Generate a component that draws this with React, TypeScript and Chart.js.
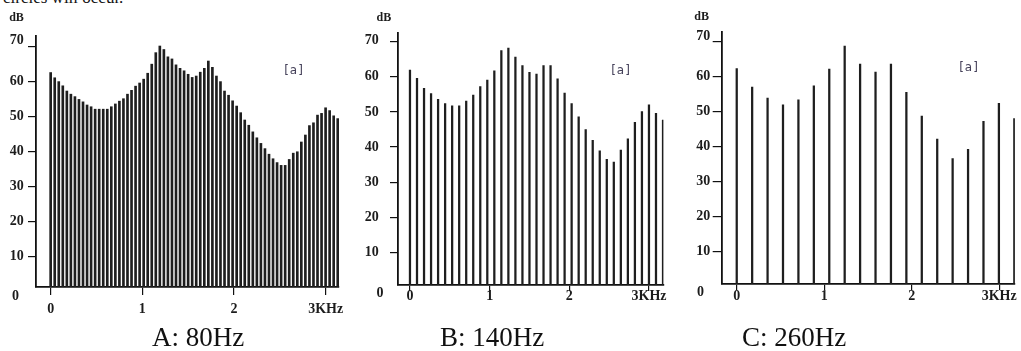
import React, { useEffect, useRef } from 'react';
import { Chart, registerables } from 'chart.js';

Chart.register(...registerables);

// ---------- data ----------
// Panel A: 80Hz source, harmonic amplitudes (dB)
const valuesA = [
  62.6, 61.1, 60, 58.8, 57.3, 56.4, 55.7, 54.9, 54.2, 53.3, 52.8, 52.1, 52.1, 52.1, 52.1, 52.8,
  53.6, 54.4, 55.1, 56.4, 57.5, 58.7, 59.6,
  60.7, 62.4, 65, 68.3, 70.2, 69.2, 67.1, 66.5, 64.8, 63.8, 63.1, 62.1, 61.2, 61.6, 62.7, 63.8,
  65.9, 64.1, 61.6, 60, 57.3, 56.1, 54.5, 53,
  51.1, 49, 47.5, 45.6, 43.9, 42.3, 40.8, 39.2, 37.9, 36.8, 36, 36, 37.7, 39.5, 39.9, 42.7,
  44.7, 47.4, 48.2, 50.4, 50.9, 52.5, 51.7, 50.2, 49.4,
];
// Panel B: 140Hz source
const valuesB = [
  61.9, 59.6, 56.7, 55.2, 53.6, 52.4, 51.7, 51.7, 53.1, 54.8, 57.2, 59.1, 61.7, 67.5, 68.2, 65.6,
  63.2, 61.3, 60.8, 63.2, 63.2, 59.4, 55.4, 52.4, 48.6, 45, 41.9, 38.9, 36.5, 35.7, 39.1, 42.3,
  47, 50.1, 52, 49.6, 47.7,
];
// Panel C: 260Hz source
const valuesC = [
  62.3, 57, 53.9, 51.9, 53.4, 57.4, 62.2, 68.8, 63.6, 61.3, 63.6, 55.5, 48.7, 42.1, 36.5, 39.2,
  47.2, 52.4, 48,
];
// spacing (kHz) between drawn harmonics in each panel
const harmonicStepA = 0.0441;
const harmonicStepB = 0.0882;
const harmonicStepC = 0.1763;

const yTickValues = [10, 20, 30, 40, 50, 60, 70];
const xTickValues = [0, 1, 2, 3];
const xTickLabels = ['0', '1', '2', '3KHz'];
const yUnitLabel = 'dB';
const zeroLabel = '0';
const tagLabel = '[a]';
const captions = ['A: 80Hz', 'B: 140Hz', 'C: 260Hz'];
const topTextLine = 'circles will occur.';

// ---------- layout / style ----------
const H = 351;
type PanelLayout = {
  values: number[];
  step: number;
  caption: string;
  left: number;
  width: number;
  plotLeft: number;
  plotTop: number;
  plotRight: number;
  plotBottom: number;
  xMin: number;
  xMax: number;
  yMin: number;
  yMax: number;
  barWidth: number;
  yTickLen: number;
  yTickPad: number;
  xTickLen: number;
  xTickPad: number;
  topLabelShift: number;
  dbPos: [number, number];
  zeroPos: [number, number];
  tagPos: [number, number];
  captionLeft: number;
};

const panels: PanelLayout[] = [
  {
    values: valuesA, step: harmonicStepA, caption: captions[0],
    left: 0, width: 350, plotLeft: 36, plotTop: 36, plotRight: 339, plotBottom: 287,
    xMin: -0.16, xMax: 3.145, yMin: 1.15, yMax: 73.07, barWidth: 2,
    yTickLen: 8, yTickPad: 4.2, xTickLen: 8, xTickPad: 5.6, topLabelShift: -6.4,
    dbPos: [16.5, 18], zeroPos: [15.5, 296.5], tagPos: [294, 71], captionLeft: 152,
  },
  {
    values: valuesB, step: harmonicStepB, caption: captions[1],
    left: 350, width: 330, plotLeft: 47.7, plotTop: 33.3, plotRight: 313.4, plotBottom: 285,
    xMin: -0.154, xMax: 3.18, yMin: 0.68, yMax: 72.4, barWidth: 1.6,
    yTickLen: 7.7, yTickPad: 11.2, xTickLen: 6, xTickPad: -3.4, topLabelShift: -1,
    dbPos: [33.8, 17.5], zeroPos: [30, 293], tagPos: [271, 70.5], captionLeft: 440,
  },
  {
    values: valuesC, step: harmonicStepC, caption: captions[2],
    left: 680, width: 341, plotLeft: 42.3, plotTop: 31.7, plotRight: 334.9, plotBottom: 284,
    xMin: -0.165, xMax: 3.18, yMin: 0.57, yMax: 72.9, barWidth: 1.6,
    yTickLen: 9.6, yTickPad: 2.4, xTickLen: 6, xTickPad: -1.7, topLabelShift: -5,
    dbPos: [21.7, 17], zeroPos: [20.5, 292.7], tagPos: [289, 68], captionLeft: 742,
  },
];

const SERIF = '"Liberation Serif", "Times New Roman", serif';
const INK = '#1c1c1c';
const TICK_FONT_SIZE = 14;

const panelTextPlugin = {
  id: 'panelText',
  afterDraw(chart: any, _args: any, opts: any) {
    const { ctx, chartArea, scales } = chart;
    ctx.save();
    ctx.fillStyle = INK;
    ctx.textBaseline = 'middle';
    // unit label
    ctx.font = `bold 12px ${SERIF}`;
    ctx.textAlign = 'center';
    ctx.fillText(yUnitLabel, opts.dbPos[0], opts.dbPos[1]);
    // top tick label (slightly raised as in source)
    ctx.font = `bold ${TICK_FONT_SIZE}px ${SERIF}`;
    ctx.textAlign = 'right';
    const top = yTickValues[yTickValues.length - 1];
    const y70 = scales.y.getPixelForValue(top);
    ctx.fillText(String(top), chartArea.left - opts.yTickLen - opts.yTickPad, y70 + opts.topLabelShift);
    // zero label
    ctx.textAlign = 'center';
    ctx.fillText(zeroLabel, opts.zeroPos[0], opts.zeroPos[1]);
    // tag
    ctx.font = '12px "DejaVu Sans", sans-serif';
    try {
      (ctx as any).letterSpacing = '1px';
    } catch (e) {
      /* ignore */
    }
    ctx.fillStyle = '#45415a';
    ctx.fillText(tagLabel, opts.tagPos[0], opts.tagPos[1]);
    ctx.restore();
  },
};

function buildConfig(p: PanelLayout): any {
  const topVal = yTickValues[yTickValues.length - 1];
  const tickFont = { family: SERIF, size: TICK_FONT_SIZE, weight: 'bold', lineHeight: 1.2 };
  return {
    type: 'bar',
    data: {
      datasets: [
        {
          data: p.values.map((v, i) => ({ x: i * p.step, y: v })),
          backgroundColor: '#1e1e1e',
          borderWidth: 0,
          barThickness: p.barWidth,
        },
      ],
    },
    options: {
      animation: false,
      responsive: false,
      maintainAspectRatio: false,
      events: [],
      layout: {
        autoPadding: false,
        padding: { left: 0, top: p.plotTop, right: p.width - p.plotRight, bottom: 0 },
      },
      plugins: {
        legend: { display: false },
        tooltip: { enabled: false },
        title: { display: false },
        panelText: {
          dbPos: p.dbPos,
          zeroPos: p.zeroPos,
          tagPos: p.tagPos,
          yTickLen: p.yTickLen,
          yTickPad: p.yTickPad,
          topLabelShift: p.topLabelShift,
        },
      },
      scales: {
        x: {
          type: 'linear',
          offset: false,
          min: p.xMin,
          max: p.xMax,
          afterBuildTicks: (s: any) => {
            s.ticks = xTickValues.map((value) => ({ value }));
          },
          afterFit: (s: any) => {
            s.height = H - p.plotBottom;
            s.paddingLeft = 0;
            s.paddingRight = 0;
          },
          ticks: {
            autoSkip: false,
            maxRotation: 0,
            minRotation: 0,
            padding: p.xTickPad,
            color: INK,
            font: tickFont,
            callback: (_v: any, i: number) => xTickLabels[i],
          },
          grid: {
            offset: false,
            drawOnChartArea: false,
            drawTicks: true,
            tickLength: p.xTickLen,
            color: '#111',
            lineWidth: 1.2,
          },
          border: { display: true, color: '#111', width: 1.8 },
        },
        y: {
          type: 'linear',
          min: p.yMin,
          max: p.yMax,
          afterBuildTicks: (s: any) => {
            s.ticks = yTickValues.map((value) => ({ value }));
          },
          afterFit: (s: any) => {
            s.width = p.plotLeft;
            s.paddingTop = 0;
            s.paddingBottom = 0;
          },
          ticks: {
            autoSkip: false,
            padding: p.yTickPad,
            color: INK,
            font: tickFont,
            callback: (v: any) => (v === topVal ? '' : String(v)),
          },
          grid: {
            offset: false,
            drawOnChartArea: false,
            drawTicks: true,
            tickLength: p.yTickLen,
            color: '#111',
            lineWidth: 1.2,
          },
          border: { display: true, color: '#111', width: 1.8 },
        },
      },
    },
    plugins: [panelTextPlugin],
  };
}

function Panel({ p }: { p: PanelLayout }) {
  const ref = useRef<HTMLCanvasElement>(null);
  useEffect(() => {
    if (!ref.current) return;
    const chart = new Chart(ref.current, buildConfig(p));
    return () => chart.destroy();
  }, [p]);
  return (
    <canvas
      ref={ref}
      width={p.width}
      height={H}
      style={{ position: 'absolute', left: p.left, top: 0, width: p.width, height: H }}
    />
  );
}

export default function App() {
  return (
    <div
      style={{
        position: 'fixed',
        left: 0,
        top: 0,
        width: 1021,
        height: H,
        background: '#fff',
        overflow: 'hidden',
      }}
    >
      <div
        style={{
          position: 'absolute',
          left: 3,
          top: -10,
          fontFamily: SERIF,
          fontSize: 17,
          lineHeight: '16px',
          color: '#111',
          whiteSpace: 'nowrap',
        }}
      >
        {topTextLine}
      </div>
      {panels.map((p, i) => (
        <Panel key={i} p={p} />
      ))}
      {panels.map((p, i) => (
        <div
          key={'c' + i}
          style={{
            position: 'absolute',
            left: p.captionLeft,
            top: 324.4,
            fontFamily: SERIF,
            fontSize: 27,
            lineHeight: '27px',
            color: '#111',
            whiteSpace: 'nowrap',
          }}
        >
          {p.caption}
        </div>
      ))}
    </div>
  );
}
